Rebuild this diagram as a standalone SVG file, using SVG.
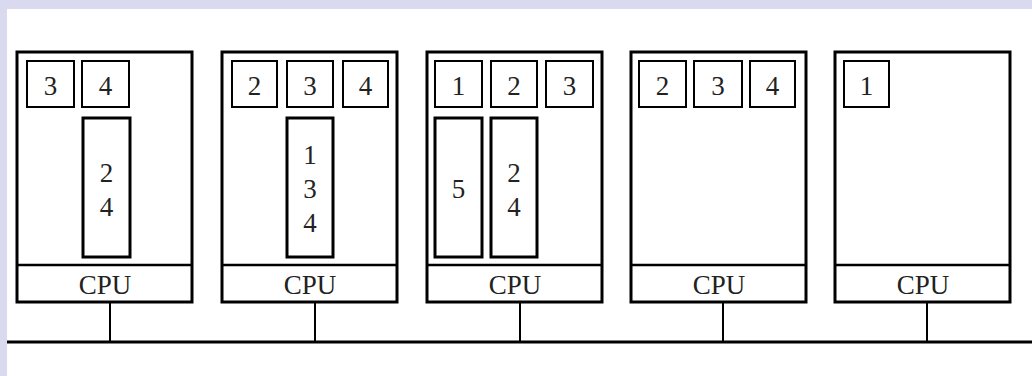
<svg xmlns="http://www.w3.org/2000/svg" width="1032" height="376" viewBox="0 0 1032 376">
<style>
.bg{fill:#d9d9ef}
.paper{fill:#ffffff}
.outer{fill:#fff;stroke:#000;stroke-width:3}
.div{stroke:#000;stroke-width:2.5}
.small{fill:#fff;stroke:#000;stroke-width:2}
.tall{fill:#fff;stroke:#000;stroke-width:3}
.wire{stroke:#000;stroke-width:2;fill:none}
.bus{stroke:#000;stroke-width:3;fill:none}
text{font-family:"Liberation Serif","Times New Roman",serif;font-size:27px;fill:#222;text-anchor:middle}
</style>
<rect class="bg" x="0" y="0" width="1032" height="376"/>
<rect class="paper" x="7" y="9" width="1025" height="367"/>
<g id="node1">
<rect class="outer" x="17" y="52" width="175" height="250"/>
<line class="div" x1="17" y1="265" x2="192" y2="265"/>
<text x="105" y="294">CPU</text>
<rect class="small" x="27" y="61" width="47" height="46"/><text x="50.5" y="95">3</text>
<rect class="small" x="82" y="61" width="47" height="46"/><text x="105.5" y="95">4</text>
<rect class="tall" x="83" y="118" width="47" height="139"/>
<text x="106.5" y="182">2</text><text x="106.5" y="216">4</text>
</g>
<g id="node2">
<rect class="outer" x="222" y="52" width="175" height="250"/>
<line class="div" x1="222" y1="265" x2="397" y2="265"/>
<text x="310" y="294">CPU</text>
<rect class="small" x="232" y="61" width="45" height="46"/><text x="254.5" y="95">2</text>
<rect class="small" x="287" y="61" width="46" height="46"/><text x="310" y="95">3</text>
<rect class="small" x="343" y="61" width="45" height="46"/><text x="365.5" y="95">4</text>
<rect class="tall" x="287" y="118" width="46" height="139"/>
<text x="310" y="164">1</text><text x="310" y="198">3</text><text x="310" y="232">4</text>
</g>
<g id="node3">
<rect class="outer" x="427" y="52" width="175" height="250"/>
<line class="div" x1="427" y1="265" x2="602" y2="265"/>
<text x="515" y="294">CPU</text>
<rect class="small" x="435" y="61" width="47" height="46"/><text x="458.5" y="95">1</text>
<rect class="small" x="491" y="61" width="46" height="46"/><text x="514" y="95">2</text>
<rect class="small" x="546" y="61" width="47" height="46"/><text x="569.5" y="95">3</text>
<rect class="tall" x="435" y="118" width="47" height="139"/>
<text x="458.5" y="198">5</text>
<rect class="tall" x="491" y="118" width="46" height="139"/>
<text x="514" y="182">2</text><text x="514" y="216">4</text>
</g>
<g id="node4">
<rect class="outer" x="631" y="52" width="175" height="250"/>
<line class="div" x1="631" y1="265" x2="806" y2="265"/>
<text x="719" y="294">CPU</text>
<rect class="small" x="639" y="61" width="47" height="46"/><text x="662.5" y="95">2</text>
<rect class="small" x="694" y="61" width="48" height="46"/><text x="718" y="95">3</text>
<rect class="small" x="750" y="61" width="45" height="46"/><text x="772.5" y="95">4</text>
</g>
<g id="node5">
<rect class="outer" x="835" y="52" width="175" height="250"/>
<line class="div" x1="835" y1="265" x2="1010" y2="265"/>
<text x="923" y="294">CPU</text>
<rect class="small" x="844" y="61" width="45" height="46"/><text x="866.5" y="95">1</text>
</g>
<g id="connectors">
<line class="bus" x1="7" y1="342" x2="1032" y2="342"/>
<line class="wire" x1="110" y1="302" x2="110" y2="342"/>
<line class="wire" x1="315" y1="302" x2="315" y2="342"/>
<line class="wire" x1="520" y1="302" x2="520" y2="342"/>
<line class="wire" x1="723" y1="302" x2="723" y2="342"/>
<line class="wire" x1="927" y1="302" x2="927" y2="342"/>
</g>
</svg>
